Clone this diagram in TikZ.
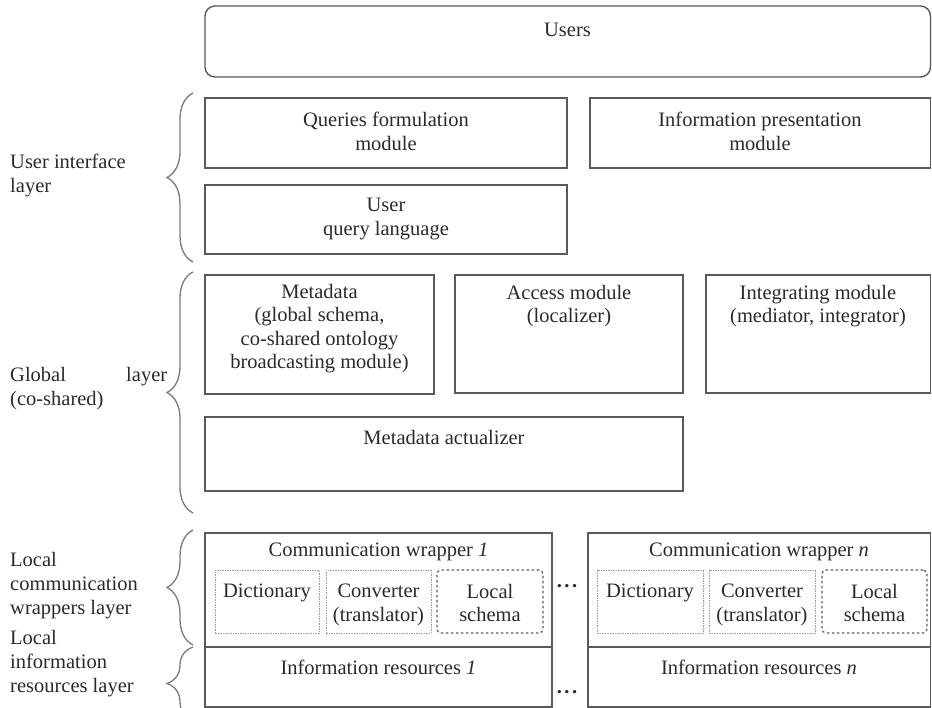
\documentclass[tikz,border=0pt]{standalone}
\usepackage{fontspec}
\setmainfont{Liberation Serif}
\usetikzlibrary{fit,decorations.pathreplacing}
\definecolor{ln}{HTML}{5A5A5A}
\definecolor{tx}{HTML}{2A2A2A}
\begin{document}
\begin{tikzpicture}[x=1pt,y=-1pt,
 box/.style={draw=ln, line width=1.4pt, inner sep=0pt},
 ubox/.style={box, rounded corners=10pt},
 dbox/.style={draw=ln!60, line width=1pt, dash pattern=on 1.5pt off 1pt, inner sep=0pt},
 lsbox/.style={draw=ln, line width=1.2pt, dash pattern=on 2.5pt off 2.5pt, rounded corners=4pt, inner sep=0pt},
 txt/.style={text=tx, font=\fontsize{20.5}{23.5}\selectfont, align=center, inner sep=0pt, anchor=north},
 ltxt/.style={text=tx, font=\fontsize{20.5}{24}\selectfont, align=left, inner sep=0pt, anchor=north west},
 brc/.style={draw=ln!80, line width=1.3pt, decorate, decoration={brace, amplitude=26pt}},
 dots/.style={text=tx, font=\fontsize{20.5}{23.5}\selectfont\bfseries, inner sep=0pt},
]
\useasboundingbox (0,0) rectangle (932,708);
\clip (0,0) rectangle (932,708);

% Users
\node[ubox, fit={(205,6) (930.5,77)}] (users) {};
\node[txt] (userst) at (567.5,23) {Users};

% User interface layer
\node[box, fit={(205,98) (567,168)}] (qfm) {};
\node[txt] (qfmt) at (386,112) {Queries formulation\\module};
\node[box, fit={(590,98) (930.5,168)}] (ipm) {};
\node[txt] (ipmt) at (760,112) {Information presentation\\module};
\node[box, fit={(205,185) (567,254)}] (uql) {};
\node[txt] (uqlt) at (386,198) {User\\query language};

% Global layer
\node[box, fit={(205,275) (434,394)}] (meta) {};
\node[txt] (metat) at (319.5,284) {Metadata\\(global schema,\\co-shared ontology\\broadcasting module)};
\node[box, fit={(455,275) (683,393)}] (acc) {};
\node[txt] (acct) at (569,285) {Access module\\(localizer)};
\node[box, fit={(706,275) (930.5,393)}] (integ) {};
\node[txt] (integt) at (818,285) {Integrating module\\(mediator, integrator)};
\node[box, fit={(205,417) (683,491)}] (act) {};
\node[txt] (actt) at (444,430) {Metadata actualizer};

% Local wrappers 1
\node[box, fit={(205,533) (552,647)}] (cw1) {};
\node[txt] (cw1t) at (378.5,543) {Communication wrapper \textit{1}};
\node[dbox, fit={(215,570) (319,633)}] (dic1) {};
\node[txt] (dic1t) at (267,584) {Dictionary};
\node[dbox, fit={(326,570) (431,633)}] (conv1) {};
\node[txt] (conv1t) at (378.5,584) {Converter\\(translator)};
\node[lsbox, fit={(437,570) (543,633)}] (ls1) {};
\node[txt] (ls1t) at (490,584) {Local\\schema};
\node[box, fit={(205,647) (552,707)}] (ir1) {};
\node[txt] (ir1t) at (378.5,660) {Information resources \textit{1}};

% Local wrappers n
\node[box, fit={(588,533) (930.5,647)}] (cwn) {};
\node[txt] (cwnt) at (759,543) {Communication wrapper \textit{n}};
\node[dbox, fit={(597,570) (703,633)}] (dicn) {};
\node[txt] (dicnt) at (650,584) {Dictionary};
\node[dbox, fit={(709,570) (815,633)}] (convn) {};
\node[txt] (convnt) at (762,584) {Converter\\(translator)};
\node[lsbox, fit={(822,570) (927,633)}] (lsn) {};
\node[txt] (lsnt) at (874.5,584) {Local\\schema};
\node[box, fit={(588,647) (930.5,707)}] (irn) {};
\node[txt] (irnt) at (759,660) {Information resources \textit{n}};

% dots
\node[dots] (d1) at (567,586) {.\hspace{2.5pt}.\hspace{2.5pt}.};
\node[dots] (d2) at (567,692) {.\hspace{2.5pt}.\hspace{2.5pt}.};

% Braces
\draw[brc] (193,262) -- (193,93);
\draw[brc] (193,513) -- (193,272);
\draw[brc] (193,645) -- (193,530);
\draw[brc] (193,720) -- (193,647);

% Layer labels
\node[ltxt] (l1) at (10,154) {User interface\\layer};
\node[ltxt] (l2) at (10,367) {\hbox to 157pt{Global\hfill layer}\\(co-shared)};
\node[ltxt] (l3) at (10,552) {Local\\communication\\wrappers layer};
\node[ltxt] (l4) at (10,630) {Local\\information\\resources layer};
\end{tikzpicture}
\end{document}
